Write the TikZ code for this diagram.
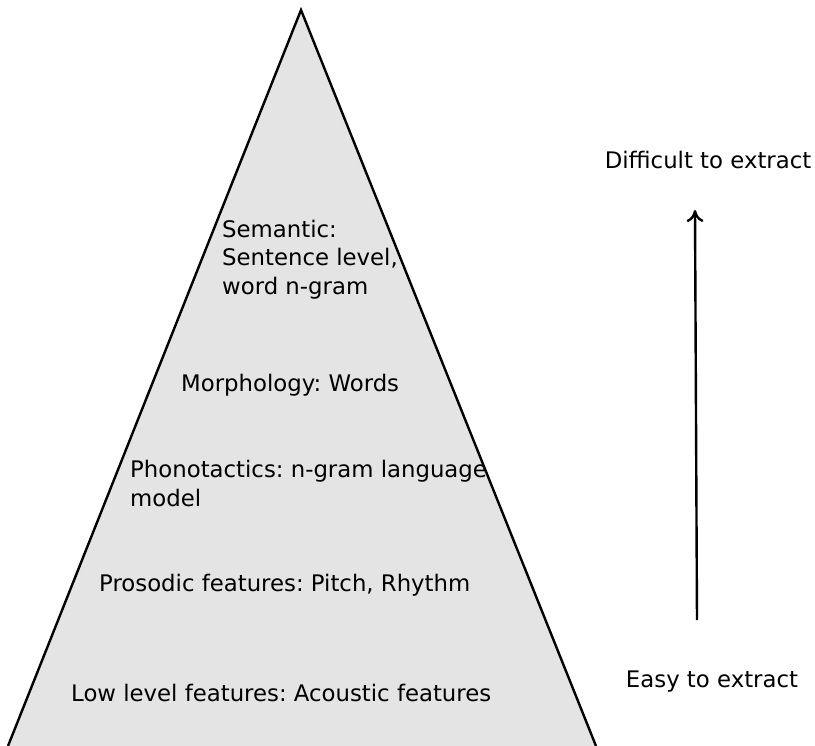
\documentclass[tikz,border=0pt]{standalone}
\usepackage{fontspec}
\setmainfont{DejaVu Sans}
\frenchspacing
\usetikzlibrary{positioning}
\usetikzlibrary{arrows.meta}

\begin{document}
\begin{tikzpicture}[x=1pt,y=-1pt,
              level/.style={anchor=west,inner sep=0pt,align=left,
                font=\fontsize{22.8}{28.5}\selectfont},
              extract/.style={inner sep=0pt,font=\fontsize{22.8}{28.5}\selectfont}]
              \useasboundingbox (0,0) rectangle (815,746);
              % pyramid
              \coordinate (apex) at (301,10);
              \coordinate (left) at (8,746);
              \coordinate (right) at (596,746);
              \draw[line width=2.4pt,fill={rgb,255:red,228;green,228;blue,228}]
                (left) -- (apex) -- (right);
              % levels
              \node[level] (semantic) at (222,259.5) {Semantic:\\Sentence level,\\word n-gram};
              \node[level] (morph) at (181,385) {Morphology: Words};
              \node[level] (phono) at (130,483.5) {Phonotactics: n-gram language\\model};
              \node[level] (prosodic) at (99,585) {Prosodic features: Pitch, Rhythm};
              \node[level] (lowlevel) at (71,693) {Low level features: Acoustic features};
              % difficulty
              \node[extract] (difficult) at (708,160) {Difficult to extract};
              \node[extract] (easy) at (712,682) {Easy to extract};
              \coordinate (arrowstart) at (697,620);
              \coordinate (arrowend) at (695,210);
              \draw[line width=2.4pt,-{To[length=12pt,width=17pt]}] (arrowstart) -- (arrowend);
            \end{tikzpicture}
\end{document}
